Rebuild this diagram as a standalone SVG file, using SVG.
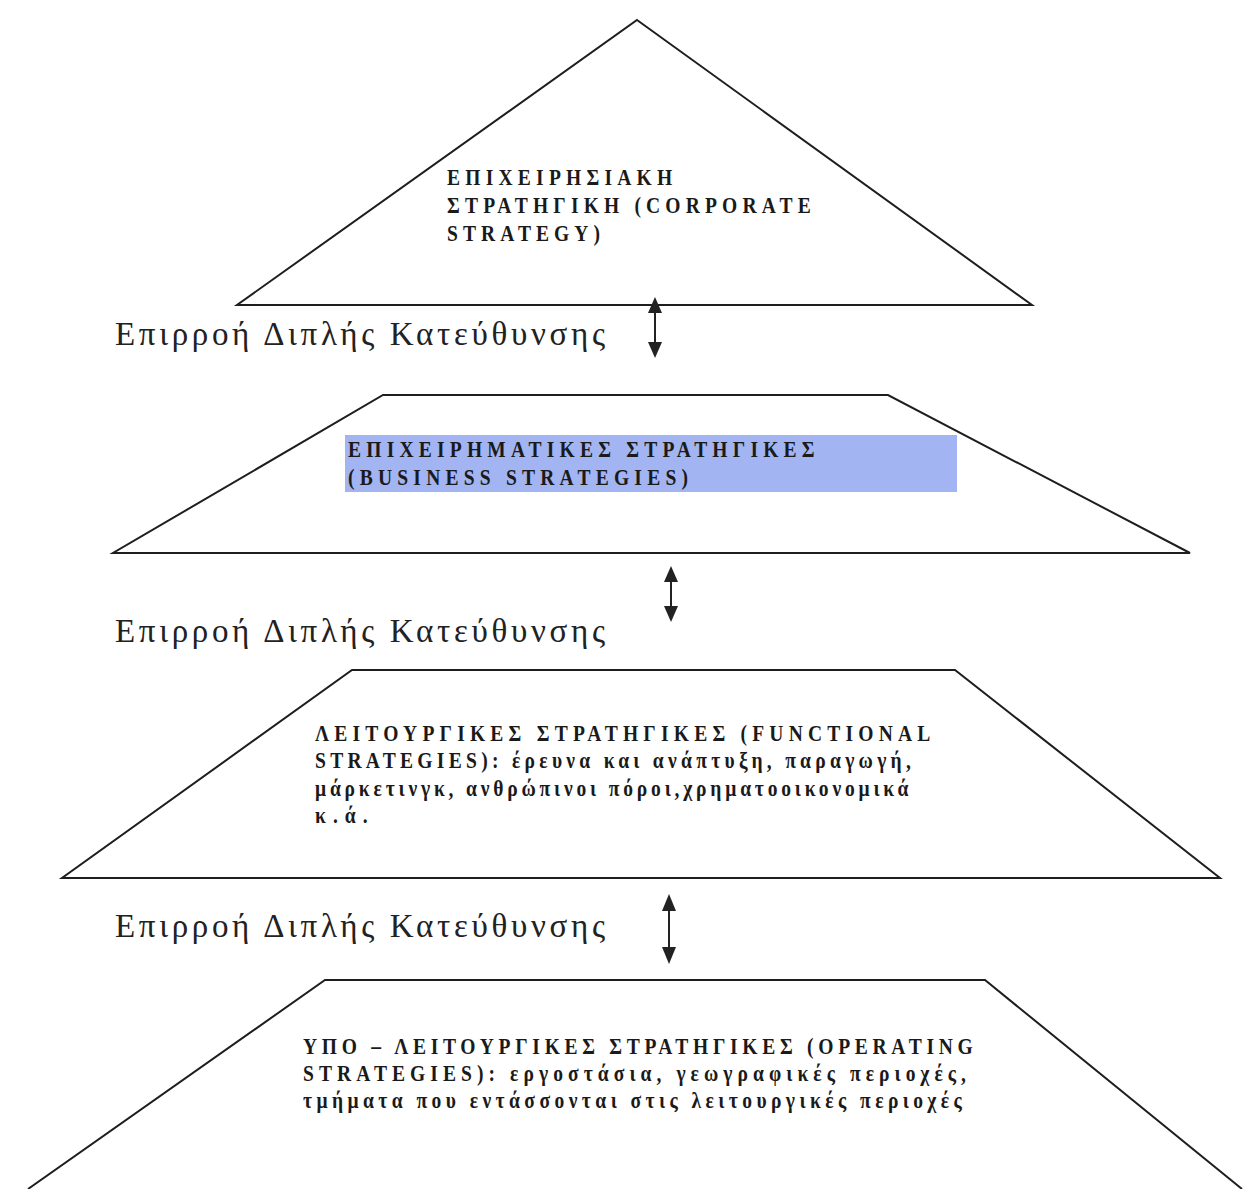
<svg xmlns="http://www.w3.org/2000/svg" width="1259" height="1189" viewBox="0 0 1259 1189">
  <style>
    .shape { fill: none; stroke: #1e1e1e; stroke-width: 2; stroke-linejoin: miter; }
    .hd { font-family: "Liberation Serif", "Times New Roman", serif; font-weight: bold; font-size: 23px; fill: #1a1a1a; }
    .lbl { font-family: "Liberation Serif", "Times New Roman", serif; font-size: 33px; fill: #222; }
    .conn { stroke: #222; stroke-width: 2; }
    .head { fill: #222; }
  </style>
  <rect x="0" y="0" width="1259" height="1189" fill="#ffffff"/>

  <!-- heading lines are set in a slightly condensed face: each line is a group
       translated to its baseline start and squeezed horizontally to 85% -->
  <g id="corporate">
    <polygon class="shape" points="637,20 1032,305 237,305"/>
    <g transform="translate(447,185) scale(0.85,1)"><text class="hd" x="0" y="0" textLength="265" lengthAdjust="spacing">ΕΠΙΧΕΙΡΗΣΙΑΚΗ</text></g>
    <g transform="translate(447,213) scale(0.85,1)"><text class="hd" x="0" y="0" textLength="428" lengthAdjust="spacing">ΣΤΡΑΤΗΓΙΚΗ (CORPORATE</text></g>
    <g transform="translate(447,241) scale(0.85,1)"><text class="hd" x="0" y="0" textLength="180" lengthAdjust="spacing">STRATEGY)</text></g>
  </g>

  <g id="business">
    <polygon class="shape" points="383,395 888,395 1190,553 113,553"/>
    <rect x="345" y="435" width="612" height="57" fill="#a2b4f1"/>
    <g transform="translate(348,457) scale(0.85,1)"><text class="hd" x="0" y="0" textLength="549" lengthAdjust="spacing">ΕΠΙΧΕΙΡΗΜΑΤΙΚΕΣ ΣΤΡΑΤΗΓΙΚΕΣ</text></g>
    <g transform="translate(348,485) scale(0.85,1)"><text class="hd" x="0" y="0" textLength="400" lengthAdjust="spacing">(BUSINESS STRATEGIES)</text></g>
  </g>

  <g id="functional">
    <polygon class="shape" points="352,670 955,670 1220,878 62,878"/>
    <g transform="translate(315,741) scale(0.85,1)"><text class="hd" x="0" y="0" textLength="724" lengthAdjust="spacing">ΛΕΙΤΟΥΡΓΙΚΕΣ ΣΤΡΑΤΗΓΙΚΕΣ (FUNCTIONAL</text></g>
    <g transform="translate(315,768) scale(0.85,1)"><text class="hd" x="0" y="0" textLength="701" lengthAdjust="spacing">STRATEGIES): έρευνα και ανάπτυξη, παραγωγή,</text></g>
    <g transform="translate(315,796) scale(0.85,1)"><text class="hd" x="0" y="0" textLength="698" lengthAdjust="spacing">μάρκετινγκ, ανθρώπινοι πόροι,χρηματοοικονομικά</text></g>
    <g transform="translate(315,823) scale(0.85,1)"><text class="hd" x="0" y="0" textLength="62" lengthAdjust="spacing">κ.ά.</text></g>
  </g>

  <g id="operating">
    <polyline class="shape" points="28,1189 325,980 985,980 1242,1189"/>
    <g transform="translate(303,1054) scale(0.85,1)"><text class="hd" x="0" y="0" textLength="788" lengthAdjust="spacing">ΥΠΟ – ΛΕΙΤΟΥΡΓΙΚΕΣ ΣΤΡΑΤΗΓΙΚΕΣ (OPERATING</text></g>
    <g transform="translate(303,1081) scale(0.85,1)"><text class="hd" x="0" y="0" textLength="780" lengthAdjust="spacing">STRATEGIES): εργοστάσια, γεωγραφικές περιοχές,</text></g>
    <g transform="translate(303,1108) scale(0.85,1)"><text class="hd" x="0" y="0" textLength="775" lengthAdjust="spacing">τμήματα που εντάσσονται στις λειτουργικές περιοχές</text></g>
  </g>

  <g id="labels">
    <text class="lbl" x="115" y="345" textLength="490" lengthAdjust="spacing">Επιρροή Διπλής Κατεύθυνσης</text>
    <text class="lbl" x="115" y="642" textLength="490" lengthAdjust="spacing">Επιρροή Διπλής Κατεύθυνσης</text>
    <text class="lbl" x="115" y="937" textLength="490" lengthAdjust="spacing">Επιρροή Διπλής Κατεύθυνσης</text>
  </g>

  <g id="connectors">
    <line class="conn" x1="655" y1="310" x2="655" y2="345"/>
    <polygon class="head" points="655,297 662,313 648,313"/>
    <polygon class="head" points="655,358 662,342 648,342"/>

    <line class="conn" x1="671" y1="579" x2="671" y2="609"/>
    <polygon class="head" points="671,566 678,582 664,582"/>
    <polygon class="head" points="671,622 678,606 664,606"/>

    <line class="conn" x1="669" y1="907" x2="669" y2="951"/>
    <polygon class="head" points="669,894 676,911 662,911"/>
    <polygon class="head" points="669,964 676,947 662,947"/>
  </g>
</svg>
